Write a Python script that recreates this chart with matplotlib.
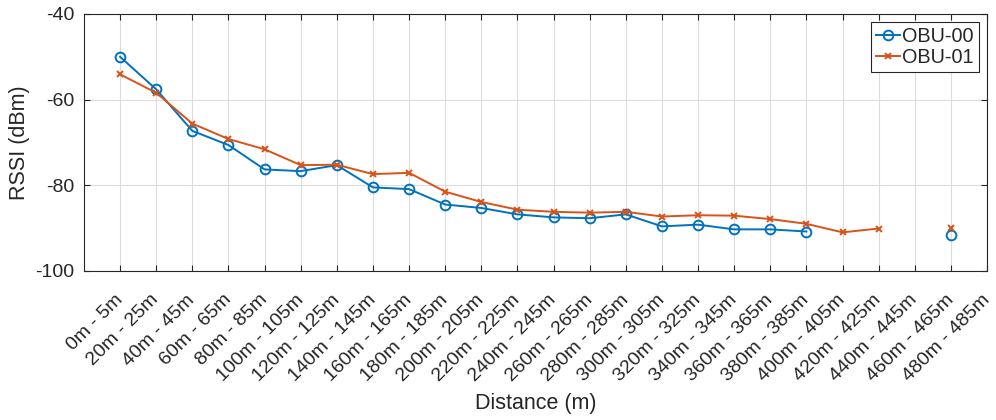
import numpy as np
from matplotlib import pyplot as plt

plt.rcParams['font.family'] = ['Liberation Sans', 'DejaVu Sans']
plt.rcParams['axes.unicode_minus'] = False

# distance bins
bins = ['%dm - %dm' % (d, d + 5) for d in range(0, 500, 20)]

nan = np.nan
# RSSI per bin [dBm], nan where no packets were received
obu00 = [-50.0, -57.6, -67.3, -70.6, -76.3, -76.7, -75.3, -80.5, -80.9, -84.5,
         -85.3, -86.8, -87.5, -87.7, -86.8, -89.6, -89.2, -90.3, -90.3, -90.8,
         nan, nan, nan, -91.6, nan]
obu01 = [-54.1, -58.4, -65.6, -69.2, -71.6, -75.3, -75.2, -77.4, -77.1, -81.5,
         -83.9, -85.7, -86.2, -86.4, -86.2, -87.3, -87.0, -87.1, -87.9, -89.0,
         -91.0, -90.1, nan, -89.9, nan]

blue = '#0072BD'
orange = '#D95319'
dark = '#262626'

fig = plt.figure(figsize=(9.96, 4.2), dpi=100)
ax = fig.add_axes([0.0843, 0.355, 0.9067, 0.6117])

x = np.arange(1, len(bins) + 1)
ax.plot(x, obu00, 'o-', color=blue, lw=1.4, ms=7, mfc='none', mew=1.4, label='OBU-00')
ax.plot(x, obu01, 'x-', color=orange, lw=1.4, ms=5, mew=1.4, label='OBU-01')

ax.set_xlim(0, len(bins))
ax.set_ylim(-100, -40)
ax.set_yticks([-100, -80, -60, -40])
ax.set_xticks(x)
ax.set_xticklabels(bins, rotation=45, ha='right', va='center', rotation_mode='anchor')
ax.tick_params(direction='in', top=True, right=True, length=4, width=0.8,
               colors=dark, labelsize=14, pad=7)
ax.tick_params(axis='x', pad=19)
ax.grid(True, color='#dcdcdc', lw=0.8)
ax.set_axisbelow(True)
for s in ax.spines.values():
    s.set_color(dark)
    s.set_linewidth(0.8)

ax.set_xlabel('Distance (m)', fontsize=15.5, color=dark, labelpad=6)
ax.set_ylabel('RSSI (dBm)', fontsize=15.5, color=dark, labelpad=4)

leg = ax.legend(loc='upper right', fontsize=14.3, handlelength=1.25, handletextpad=0.1,
                borderpad=0.25, labelspacing=0.1, borderaxespad=0, fancybox=False,
                framealpha=1, bbox_to_anchor=(0.991, 0.97))
leg.get_frame().set_edgecolor(dark)
leg.get_frame().set_linewidth(0.8)
for t in leg.get_texts():
    t.set_color(dark)

fig.savefig('out.png', dpi=100)
